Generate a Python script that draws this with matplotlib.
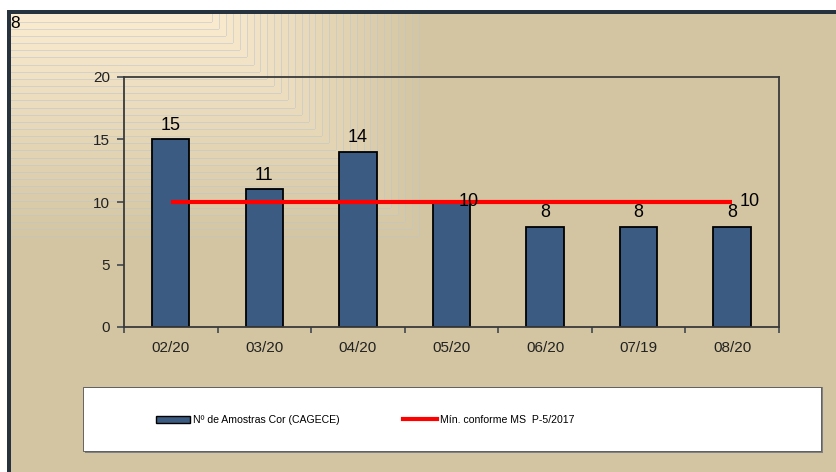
import numpy as np
import matplotlib
matplotlib.use("Agg")
from matplotlib import pyplot as plt
from matplotlib.patches import Rectangle
from matplotlib.lines import Line2D

# dados do grafico
meses = ['02/20', '03/20', '04/20', '05/20', '06/20', '07/19', '08/20']
amostras = [15, 11, 14, 10, 8, 8, 8]
minimo = [10, 10, 10, 10, 10, 10, 10]
rotulos_barras = [0, 1, 2, 4, 5, 6]  # o rotulo de 05/20 fica escondido
rotulos_min = [3, 6]  # pontos da linha que tem rotulo
nome_barras = 'Nº de Amostras Cor (CAGECE)'
nome_linha = 'Mín. conforme MS  P-5/2017'

W, H = 837, 472
bege = np.array([211, 197, 161]) / 255
claro = np.array([252, 236, 209]) / 255
cor_linha = np.array([190, 198, 204]) / 255
borda = np.array([38, 50, 62]) / 255

plt.rcParams['font.family'] = ['Liberation Sans', 'DejaVu Sans']

'''*******************************************************
   fundo: bege com textura clara no canto superior esquerdo
*******************************************************'''
yy, xx = np.mgrid[0:H, 0:W].astype(float)
s = np.maximum((xx - 205) / 220, (yy - 14) / 229)
n = 32
nivel = np.floor(np.clip(s, -0.001, 1.0) * n)
t = np.clip((nivel + 1) / n, 0, 1)
img = claro[None, None, :] * (1 - t[..., None]) + bege[None, None, :] * t[..., None]
# linhas finas nas fronteiras dos niveis
fronteira = np.zeros_like(nivel, dtype=bool)
fronteira[:, 1:] |= nivel[:, 1:] != nivel[:, :-1]
fronteira[1:, :] |= nivel[1:, :] != nivel[:-1, :]
fronteira &= (s > 0.02) & (s < 1.0)
mix = 0.55
img[fronteira] = img[fronteira] * (1 - mix) + cor_linha * mix
# borda escura e faixa branca
img[:10, :] = 1.0
img[:, :7] = 1.0
img[10:14, 7:] = borda
img[10:, 7:11] = borda

fig = plt.figure(figsize=(W / 100, H / 100), dpi=100)
fundo = fig.add_axes([0, 0, 1, 1])
fundo.imshow(img, aspect='auto', interpolation='nearest')
fundo.axis('off')

fig.text(10 / W, 1 - 23 / H, '8', fontsize=12.5, va='center', ha='left')

'''*******************************************************
   grafico
*******************************************************'''
ax = fig.add_axes([124 / W, 1 - 327 / H, (779 - 124) / W, (327 - 77) / H])
ax.patch.set_alpha(0)
x = np.arange(len(meses)) + 0.5
barras = ax.bar(x, amostras, width=0.4, color='#3B5B82', edgecolor='black',
                linewidth=1.3, zorder=2)
linha, = ax.plot(x, minimo, color='#FF0000', linewidth=3, zorder=3,
                 solid_capstyle='butt')

for i in rotulos_barras:
    ax.annotate(str(amostras[i]), (x[i], amostras[i]), xytext=(0, 7),
                textcoords='offset points', ha='center', va='baseline',
                fontsize=13, zorder=2.5)
for i in rotulos_min:
    ax.annotate(str(minimo[i]), (x[i], minimo[i]), xytext=(5, 0),
                textcoords='offset points', ha='left', va='center',
                fontsize=13, zorder=4)

ax.set_xlim(0, len(meses))
ax.set_ylim(0, 20)
ax.set_yticks([0, 5, 10, 15, 20])
ax.set_xticks(np.arange(len(meses) + 1))
ax.set_xticklabels([])
ax.set_xticks(x, minor=True)
ax.set_xticklabels(meses, minor=True)
ax.tick_params(axis='x', which='major', length=4, width=1.2, color='#404850')
ax.tick_params(axis='x', which='minor', length=0, pad=10, labelsize=11,
               labelcolor='#222222')
ax.tick_params(axis='y', length=5, width=1.2, color='#404850', pad=5,
               labelsize=11, labelcolor='#222222')
for sp in ax.spines.values():
    sp.set_color('#3a3a3a')
    sp.set_linewidth(1.3)

'''*******************************************************
   legenda em caixa branca
*******************************************************'''
fig.patches.append(Rectangle((85 / W, 1 - 453 / H), (823 - 85) / W, (453 - 387) / H,
                             transform=fig.transFigure, facecolor='#808080',
                             edgecolor='none', zorder=1))
fig.patches.append(Rectangle((83 / W, 1 - 451 / H), (821 - 83) / W, (451 - 387) / H,
                             transform=fig.transFigure, facecolor='white',
                             edgecolor='#505050', linewidth=0.6, zorder=1.1))

h_barra = Rectangle((0, 0), 1, 1, facecolor='#3B5B82', edgecolor='black', linewidth=1.0)
h_linha = Line2D([], [], color='#FF0000', linewidth=3)
leg = fig.legend([h_barra, h_linha], [nome_barras, nome_linha], ncol=2,
                 loc='center left', bbox_to_anchor=(156 / W, 1 - 420 / H),
                 frameon=False, borderpad=0, borderaxespad=0,
                 handlelength=3.2, handleheight=0.6, handletextpad=0.3,
                 columnspacing=6.0, prop={'size': 7.6})
leg.set_zorder(5)

plt.savefig('out.png', dpi=100)
